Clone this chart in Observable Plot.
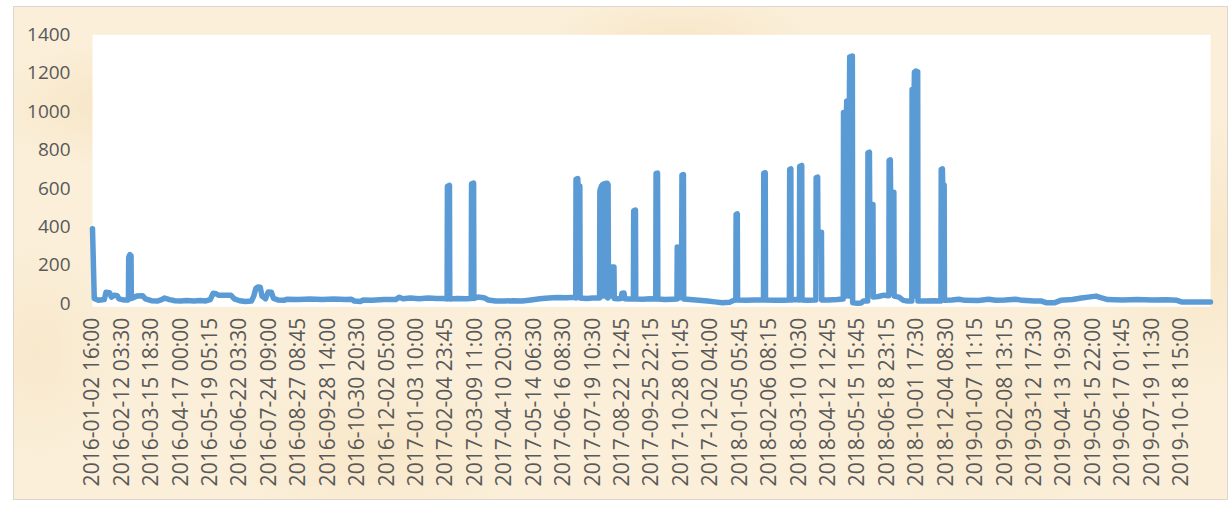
<!DOCTYPE html>
<html>
<head>
<meta charset="utf-8">
<script src="https://cdn.jsdelivr.net/npm/d3@7"></script>
<script src="https://cdn.jsdelivr.net/npm/@observablehq/plot@0.6"></script>
<style>
  html, body { margin: 0; padding: 0; background: #ffffff; }
  #wrap { position: relative; width: 1230px; height: 506px; overflow: hidden; }
  #paper {
    position: absolute; left: 13px; top: 6px; width: 1215px; height: 494px;
    box-sizing: border-box; border: 1px solid #dcd6cc;
    background-color: #fbefd9;
    background-image:
      radial-gradient(ellipse 180px 90px at 8% 20%, rgba(244,222,183,0.55), rgba(244,222,183,0) 70%),
      radial-gradient(ellipse 220px 110px at 30% 90%, rgba(246,226,190,0.6), rgba(246,226,190,0) 70%),
      radial-gradient(ellipse 200px 80px at 55% 8%, rgba(243,221,182,0.55), rgba(243,221,182,0) 70%),
      radial-gradient(ellipse 240px 120px at 80% 85%, rgba(245,224,187,0.55), rgba(245,224,187,0) 70%),
      radial-gradient(ellipse 160px 200px at 98% 50%, rgba(244,223,185,0.5), rgba(244,223,185,0) 70%),
      radial-gradient(ellipse 120px 160px at 2% 70%, rgba(245,225,190,0.5), rgba(245,225,190,0) 70%);
  }
  #chart { position: absolute; left: 0; top: 0; }
</style>
</head>
<body>
<div id="wrap"><div id="paper"></div><div id="chart"></div></div>
<script>
// Category tick labels (every 100th record)
const tickLabels = [
  "2016-01-02 16:00","2016-02-12 03:30","2016-03-15 18:30","2016-04-17 00:00",
  "2016-05-19 05:15","2016-06-22 03:30","2016-07-24 09:00","2016-08-27 08:45",
  "2016-09-28 14:00","2016-10-30 20:30","2016-12-02 05:00","2017-01-03 10:00",
  "2017-02-04 23:45","2017-03-09 11:00","2017-04-10 20:30","2017-05-14 06:30",
  "2017-06-16 08:30","2017-07-19 10:30","2017-08-22 12:45","2017-09-25 22:15",
  "2017-10-28 01:45","2017-12-02 04:00","2018-01-05 05:45","2018-02-06 08:15",
  "2018-03-10 10:30","2018-04-12 12:45","2018-05-15 15:45","2018-06-18 23:15",
  "2018-10-01 17:30","2018-12-04 08:30","2019-01-07 11:15","2019-02-08 13:15",
  "2019-03-12 17:30","2019-04-13 19:30","2019-05-15 22:00","2019-06-17 01:45",
  "2019-07-19 11:30","2019-10-18 15:00"
];
const recordsPerLabel = 100;
const recordCount = 3800;
const yTicks = [0, 200, 400, 600, 800, 1000, 1200, 1400];

// Record position (category index) of each sampled point
const position = [
  0,6,20,40,46,58,64,74,84,90,105,121,122,123,127,131,132,150,170,180,
  200,220,235,245,262,280,300,320,345,365,385,400,410,420,428,470,482,500,520,540,
  548,555,562,570,576,588,597,608,615,630,650,660,700,740,780,820,860,880,890,910,
  920,950,990,1030,1042,1055,1080,1110,1140,1170,1195,1205,1206,1213,1214,1240,1270,1287,1288,1295,
  1296,1310,1330,1345,1370,1400,1430,1460,1490,1520,1550,1580,1610,1635,1642,1643,1649,1650,1656,1657,
  1680,1700,1723,1724,1726,1727,1729,1731,1733,1735,1737,1739,1741,1743,1745,1747,1749,1751,1752,1753,
  1762,1764,1772,1773,1785,1796,1799,1806,1809,1820,1838,1839,1845,1846,1870,1895,1914,1915,1920,1921,
  1945,1970,1986,1987,1993,1996,2002,2003,2008,2009,2030,2060,2090,2115,2140,2165,2180,2186,2187,2191,
  2192,2220,2250,2280,2281,2286,2287,2320,2350,2368,2369,2373,2374,2390,2402,2403,2410,2411,2430,2458,
  2459,2464,2465,2477,2478,2500,2530,2551,2552,2555,2557,2560,2562,2563,2566,2568,2571,2572,2573,2576,
  2578,2581,2582,2583,2600,2612,2620,2634,2635,2640,2641,2652,2653,2670,2690,2706,2707,2711,2712,2723,
  2724,2740,2755,2770,2784,2785,2788,2790,2792,2793,2796,2798,2801,2804,2805,2830,2860,2883,2884,2888,
  2889,2894,2895,2920,2944,2965,3010,3045,3070,3100,3137,3160,3200,3225,3240,3268,3290,3330,3360,3390,
  3410,3426,3450,3500,3550,3600,3650,3685,3700,3750,3799
];
// Value at each sampled point
const value = [
  390,28,18,22,60,58,35,45,42,26,20,20,24,242,256,250,28,40,42,26,
  16,14,22,30,22,16,15,17,15,17,15,22,55,52,45,45,26,16,12,14,
  40,80,88,86,40,26,62,60,28,20,18,24,22,25,23,25,22,24,14,12,
  20,19,22,22,34,26,30,26,30,28,27,25,612,616,25,27,26,28,624,628,
  28,35,32,20,15,14,16,15,20,26,30,33,32,34,30,648,652,616,614,30,
  28,30,30,585,600,40,612,50,620,40,624,60,626,40,628,50,628,30,620,195,
  40,192,192,28,26,28,55,56,26,25,25,484,488,25,24,26,25,678,680,25,
  22,24,25,296,30,297,298,670,673,25,22,18,14,10,6,8,18,20,466,468,
  20,19,20,20,680,682,20,18,19,20,700,702,20,22,20,716,720,20,18,20,
  657,659,373,373,20,20,22,25,995,40,1000,40,1002,1055,50,1058,40,1060,1285,60,
  1288,50,1290,5,3,4,15,15,786,789,517,517,35,38,45,42,747,749,581,581,
  40,35,18,14,15,1115,40,1118,1120,1205,40,1212,40,1208,15,14,16,15,700,702,
  622,618,18,20,24,18,17,24,18,20,24,18,15,14,6,5,18,22,30,36,
  40,32,22,20,22,20,21,18,10,9,9
];

const data = position.map((p, i) => ({p, v: value[i]}));
const tickPositions = tickLabels.map((_, i) => i * recordsPerLabel);

const chart = Plot.plot({
  width: 1230,
  height: 506,
  marginLeft: 92,
  marginRight: 20,
  marginTop: 34.3,
  marginBottom: 202.7,
  style: {background: "transparent", color: "#595959", fontFamily: "'Open Sans', sans-serif"},
  x: {domain: [0, recordCount - 1], axis: null},
  y: {domain: [0, 1400], axis: null},
  marks: [
    Plot.frame({fill: "white", stroke: null, insetBottom: -3}),
    Plot.line(data, {x: "p", y: "v", stroke: "#5b9bd5", strokeWidth: 5.5, strokeLinejoin: "round", strokeLinecap: "round"}),
    Plot.axisY({ticks: yTicks, tickSize: 0, tickPadding: 22, fontSize: 19, label: null, tickFormat: d => String(d)}),
    Plot.axisX({ticks: tickPositions, tickFormat: d => tickLabels[Math.round(d / recordsPerLabel)],
      tickRotate: -90, tickSize: 0, tickPadding: 14, fontSize: 21, label: null, textAnchor: "end", lineAnchor: "middle"})
  ]
});
document.getElementById("chart").appendChild(chart);
</script>
</body>
</html>
